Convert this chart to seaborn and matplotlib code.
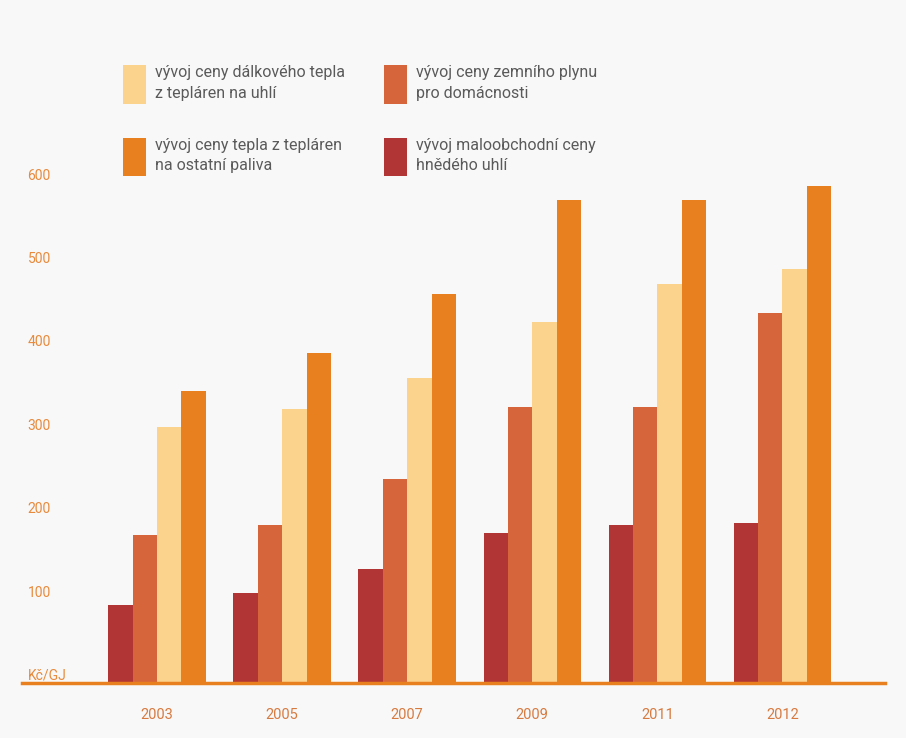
import pandas as pd
import seaborn as sns
import matplotlib.pyplot as plt
from matplotlib.patches import Patch

# roky a ceny (Kč/GJ)
roky = ["2003", "2005", "2007", "2009", "2011", "2012"]
hnede_uhli = [94, 108, 137, 180, 189, 192]
zemni_plyn = [178, 190, 245, 331, 331, 444]
teplo_uhli = [307, 329, 366, 433, 479, 497]
teplo_ostatni = [350, 396, 466, 579, 579, 596]

serie = ["vývoj maloobchodní ceny\nhnědého uhlí",
         "vývoj ceny zemního plynu\npro domácnosti",
         "vývoj ceny dálkového tepla\nz tepláren na uhlí",
         "vývoj ceny tepla z tepláren\nna ostatní paliva"]
barvy = ["#b23535", "#d6653c", "#fcd38c", "#e8801f"]

y_ticks = [0, 100, 200, 300, 400, 500, 600]
y_labels = ["Kč/GJ", "100", "200", "300", "400", "500", "600"]

df = pd.DataFrame({
    "rok": roky * 4,
    "serie": [s for s in serie for _ in roky],
    "cena": hnede_uhli + zemni_plyn + teplo_uhli + teplo_ostatni,
})

sns.set_style("white")
plt.rcParams["font.family"] = ["Roboto", "DejaVu Sans"]

fig = plt.figure(figsize=(9.06, 7.38), dpi=100, facecolor="#f8f8f8")
ax = fig.add_axes([22 / 906, 1 - 683 / 738, (885 - 22) / 906, (683 - 166) / 738])
ax.set_facecolor("#f8f8f8")

sns.barplot(data=df, x="rok", y="cena", hue="serie", hue_order=serie,
            palette=barvy, width=0.78, saturation=1, ax=ax, legend=False,
            linewidth=0, edgecolor="none")

ax.set_xlim(-1.08, 5.82)
ax.set_ylim(0, 620)
ax.set_xlabel("")
ax.set_ylabel("")

for s in ["top", "right", "left"]:
    ax.spines[s].set_visible(False)
ax.spines["bottom"].set_color("#e8801f")
ax.spines["bottom"].set_linewidth(2.5)

ax.set_yticks(y_ticks)
ax.set_yticklabels(y_labels)
ax.tick_params(axis="y", length=0, pad=-4, labelsize=10, labelcolor="#e88a3c")
for t in ax.get_yticklabels():
    t.set_horizontalalignment("left")
    t.set_verticalalignment("bottom")
ax.tick_params(axis="x", length=0, pad=18, labelsize=10.5, labelcolor="#d77a40")

# legenda nahoře ve dvou sloupcích
poradi = [2, 3, 1, 0]
handles = [Patch(facecolor=barvy[i], edgecolor="none") for i in poradi]
labels = [serie[i] for i in poradi]
leg = fig.legend(handles, labels, ncol=2, loc="upper left",
                 bbox_to_anchor=(0.120, 0.931), frameon=False,
                 fontsize=11.5, handleheight=3.3, handlelength=1.45,
                 handletextpad=0.55, labelspacing=2.15, columnspacing=2.45,
                 labelcolor="#5a5a5a")
for t in leg.get_texts():
    t.set_linespacing(1.45)

fig.savefig("out.png", dpi=100, facecolor=fig.get_facecolor())
